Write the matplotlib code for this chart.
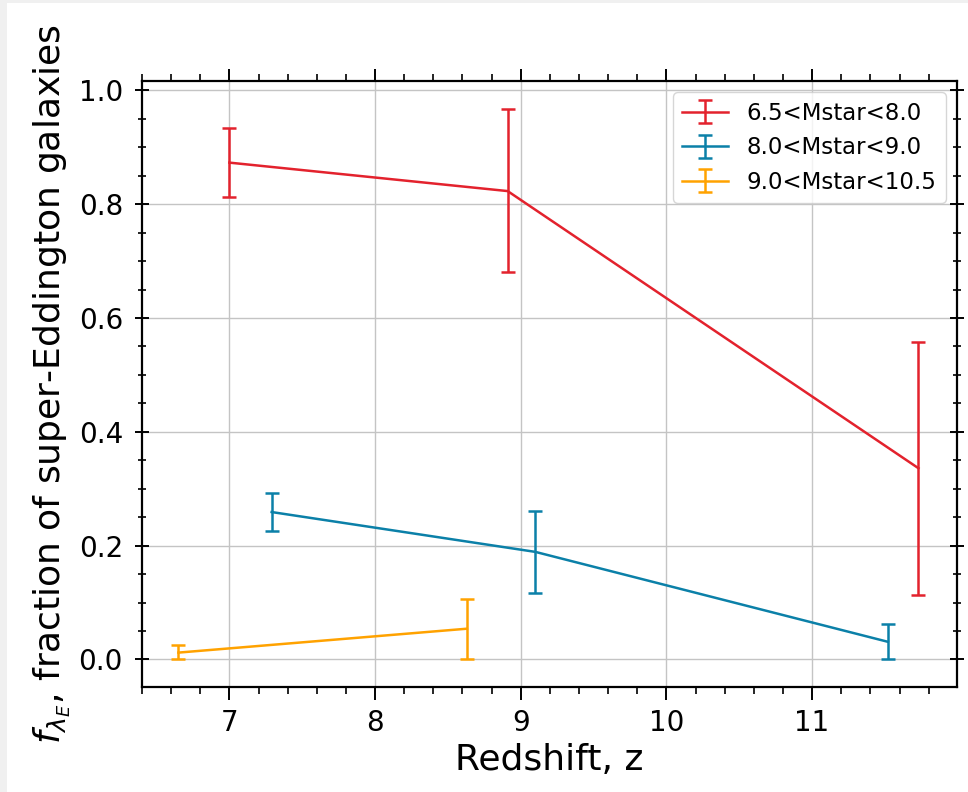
import numpy as np
import matplotlib
matplotlib.use('Agg')
import matplotlib.pyplot as plt
from matplotlib.patches import Rectangle
from matplotlib.ticker import MultipleLocator

# fraction of super-Eddington galaxies in three stellar mass bins
z_low = [7.00, 8.91, 11.73]
f_low = [0.873, 0.823, 0.336]
err_low_dn = [0.060, 0.142, 0.222]
err_low_up = [0.060, 0.145, 0.221]

z_mid = [7.29, 9.10, 11.52]
f_mid = [0.259, 0.189, 0.031]
err_mid_dn = [0.033, 0.072, 0.031]
err_mid_up = [0.033, 0.071, 0.031]

z_high = [6.65, 8.63]
f_high = [0.012, 0.054]
err_high_dn = [0.012, 0.054]
err_high_up = [0.013, 0.053]

labels = ['6.5<Mstar<8.0', '8.0<Mstar<9.0', '9.0<Mstar<10.5']
colores = ['#e3222d', '#0b80a8', '#ffa200']

fig = plt.figure(figsize=(9.68, 7.92), dpi=100)
ax = fig.add_axes([0.1467, 0.1326, 0.842, 0.7651])

# thin grey frame on the left and top edge
fig.patches.append(Rectangle((0, 0), 7 / 968, 1, transform=fig.transFigure,
                             facecolor='#f0f0f0', edgecolor='none'))
fig.patches.append(Rectangle((0, 1 - 3 / 792), 1, 3 / 792, transform=fig.transFigure,
                             facecolor='#f0f0f0', edgecolor='none'))

series = [
    (z_low, f_low, err_low_dn, err_low_up),
    (z_mid, f_mid, err_mid_dn, err_mid_up),
    (z_high, f_high, err_high_dn, err_high_up),
]
for (x, y, dn, up), lab, c in zip(series, labels, colores):
    ax.errorbar(x, y, yerr=[dn, up], color=c, lw=1.8, capsize=5,
                capthick=1.8, label=lab)

ax.set_xlim(6.40, 11.995)

ax.grid(True, color='#c4c4c4', lw=1)
ax.set_axisbelow(True)
ax.xaxis.set_major_locator(MultipleLocator(1))
ax.xaxis.set_minor_locator(MultipleLocator(0.2))
ax.yaxis.set_major_locator(MultipleLocator(0.2))
ax.yaxis.set_minor_locator(MultipleLocator(0.05))

# x ticks point outwards (bottom and top), y ticks cross the spine
ax.xaxis.set_tick_params(which='both', direction='out', top=True, bottom=True)
ax.xaxis.set_tick_params(which='major', length=9, width=1.4, labelsize=20, pad=7)
ax.xaxis.set_tick_params(which='minor', length=5, width=1.2)
ax.yaxis.set_tick_params(which='both', direction='inout', left=True, right=True)
ax.yaxis.set_tick_params(which='major', length=9.5, width=1.4, labelsize=20, pad=9)
ax.yaxis.set_tick_params(which='minor', length=6, width=1.2)
for s in ax.spines.values():
    s.set_linewidth(1.6)

ax.set_xlabel('Redshift, z', fontsize=26)
ax.set_ylabel(r'$f_{\lambda_E}$, fraction of super-Eddington galaxies', fontsize=26)

ax.legend(loc='upper right', fontsize=16.5, handlelength=2.0)

fig.savefig('out.png', dpi=100)
